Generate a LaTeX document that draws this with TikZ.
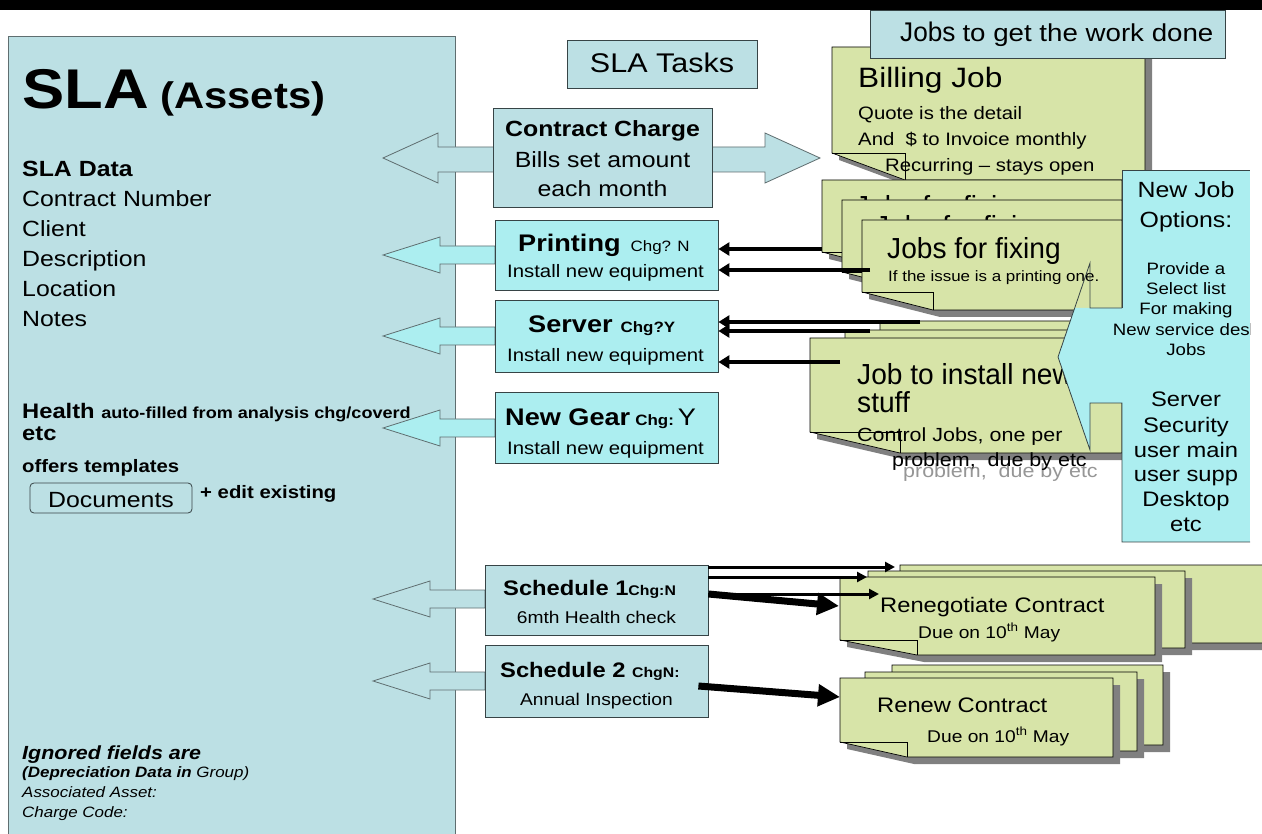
\documentclass[tikz,border=0pt]{standalone}
\usepackage{fontspec}
\setmainfont{Liberation Sans}[FakeStretch=1.13]
\newfontfamily\hfont{Liberation Sans}[FakeStretch=0.97]
\usetikzlibrary{arrows.meta,calc}
\definecolor{lb}{RGB}{188,224,228}
\definecolor{cy}{RGB}{172,238,240}
\definecolor{gn}{RGB}{215,228,168}
\definecolor{bd}{RGB}{55,68,70}
\definecolor{pb}{RGB}{95,110,112}
\definecolor{shd}{RGB}{128,128,128}
\definecolor{gtx}{RGB}{150,150,150}
\newcommand\myfs[1]{\fontsize{#1}{#1}\selectfont}
\newcommand\jnote[6]{%
  \fill[shd] ({#1+7},{#2+7}) -- ({#3+7},{#2+7}) -- ({#3+7},{#4+7}) -- ({#1+#5+7},{#4+7}) -- ({#1+7},{#4-#6+7}) -- cycle;
  \filldraw[fill=gn,draw=black,line width=0.7pt] (#1,#2) -- (#3,#2) -- (#3,#4) -- ({#1+#5},#4) -- (#1,{#4-#6}) -- cycle;
  \draw[line width=0.7pt] (#1,{#4-#6}) -- ({#1+#5},{#4-#6}) -- ({#1+#5},#4);}
\begin{document}
\begin{tikzpicture}[x=1pt,y=-1pt,
  box/.style={draw=bd,line width=0.8pt,inner sep=0pt},
  txt/.style={inner sep=0pt,anchor=base west},
  ctxt/.style={inner sep=0pt,anchor=base},
  blockarrow/.style={draw=pb,line width=0.8pt,line join=miter},
  fatline/.style={line width=4pt,-{Triangle[length=11pt,width=13pt]}},
  thinline/.style={line width=3pt,-{Triangle[length=10pt,width=10pt]}},
  hugeline/.style={line width=7pt,-{Triangle[length=22pt,width=21pt]}}]
\useasboundingbox (0,0) rectangle (1262,834);
\clip (0,0) rectangle (1262,834);
\fill[white] (0,0) rectangle (1262,834);
\fill[black] (0,0) rectangle (1262,10);

% ---------- left panel ----------
\node[box,draw=pb,fill=lb,minimum width=447,minimum height=830,anchor=north west] (panel) at (8,36) {};
\node[txt] (tsla) at (22,109) {\bfseries\myfs{56}SLA\myfs{37} (Assets)};
\node[txt] (tdata) at (22,177) {\bfseries\myfs{22}SLA Data};
\node[txt] (tcn) at (22,207) {\myfs{22}Contract Number};
\node[txt] (tcl) at (22,237) {\myfs{22}Client};
\node[txt] (tde) at (22,267) {\myfs{22}Description};
\node[txt] (tlo) at (22,297) {\myfs{22}Location};
\node[txt] (tno) at (22,327) {\myfs{22}Notes};
\node[txt] (th1) at (22,418) {\bfseries\myfs{21}Health \myfs{16}auto-filled from analysis chg/coverd};
\node[txt] (th2) at (22,441) {\bfseries\myfs{21}etc};
\node[txt] (th3) at (22,472) {\bfseries\myfs{18}offers templates};
\node[box,fill=lb,rounded corners=4pt,minimum width=162,minimum height=30] (docs) at (111,498) {};
\node[ctxt] (docs1) at (111,507) {\myfs{22}Documents};
\node[txt] (edit) at (200,498) {\bfseries\myfs{18}+ edit existing};
\node[txt] (ig1) at (22,759) {\bfseries\itshape\myfs{19}Ignored fields are};
\node[txt] (ig2) at (22,777) {\bfseries\itshape\myfs{15}(Depreciation Data in \mdseries Group)};
\node[txt] (ig3) at (22,797) {\itshape\myfs{15}Associated Asset:};
\node[txt] (ig4) at (22,817) {\itshape\myfs{15}Charge Code:};

% ---------- billing note + jobs title ----------
\jnote{832}{47}{1145}{180}{73}{27}
\node[txt] (bj1) at (858,88) {\myfs{28}Billing Job};
\node[txt] (bj2) at (858,120) {\myfs{18}Quote is the detail};
\node[txt] (bj3) at (858,146) {\myfs{18}And \ \$ to Invoice monthly};
\node[txt] (bj4) at (885,172) {\myfs{18}Recurring -- stays open};
\node[box,fill=lb,minimum width=355,minimum height=48,anchor=north west] (jobs) at (870,10) {};
\node[txt] (jobs1) at (900,42) {{\hfont\myfs{27}Jobs}\hspace{7pt}\myfs{24.5}to get the work done};

% ---------- job to install stack ----------
\jnote{880}{321}{1130}{437}{90}{21}
\jnote{845}{330}{1126}{445}{90}{21}
\jnote{810}{338}{1122}{453}{90}{21}
\node[txt] (ji1) at (857,385) {\hfont\myfs{29}Job to install new};
\node[txt] (ji2) at (857,413) {\hfont\myfs{29}stuff};
\node[txt] (ji3) at (857,442) {\myfs{19}Control Jobs, one per};
\node[txt,text=gtx] (ji4g) at (903,478) {\myfs{19}problem, \ due by etc};
\node[txt] (ji4) at (892,467) {\myfs{19}problem, \ due by etc};

% ---------- jobs for fixing stack ----------
\jnote{822}{180}{1122}{270}{71}{18}
\node[txt] (jf1) at (855,217) {\hfont\myfs{29}Jobs for fixing};
\jnote{842}{200}{1122}{290}{71}{18}
\node[txt] (jf2) at (875,237) {\hfont\myfs{29}Jobs for fixing};
\jnote{862}{220}{1122}{310}{71}{18}
\node[txt] (jf3) at (887,259) {\hfont\myfs{29}Jobs for fixing};
\node[txt] (jf4) at (888,282) {\myfs{15}If the issue is a printing one.};

% ---------- callout ----------
\fill[cy] (1122,170) rectangle (1250,542);
\fill[cy] (1074.7,308) -- (1058,357) -- (1090,450) -- (1090,403) -- (1122,403) -- (1122,308) -- cycle;
\draw[bd,line width=0.8pt] (1122,308) -- (1122,170) -- (1250,170);
\draw[bd,line width=0.8pt,line join=miter] (1250,542) -- (1122,542) -- (1122,403) -- (1090,403) -- (1090,450) -- (1058,357) -- (1090,263) -- (1090,308) -- (1122,308);
\begin{scope}
\clip (1090,170) rectangle (1250,542);
\node[ctxt] (co1) at (1186,198) {\myfs{22}New Job};
\node[ctxt] (co2) at (1186,228) {\myfs{22}Options:};
\node[ctxt] (co3) at (1186,275) {\myfs{16.5}Provide a};
\node[ctxt] (co4) at (1186,295) {\myfs{16.5}Select list};
\node[ctxt] (co5) at (1186,315) {\myfs{16.5}For making};
\node[ctxt] (co6) at (1186,336) {\myfs{16.5}New service desk};
\node[ctxt] (co7) at (1186,356) {\myfs{16.5}Jobs};
\node[ctxt] (co8) at (1186,407) {\myfs{21}Server};
\node[ctxt] (co9) at (1186,432) {\myfs{21}Security};
\node[ctxt] (co10) at (1186,457) {\myfs{21}user main};
\node[ctxt] (co11) at (1186,481) {\myfs{21}user supp};
\node[ctxt] (co12) at (1186,506) {\myfs{21}Desktop};
\node[ctxt] (co13) at (1186,531) {\myfs{21}etc};
\end{scope}

% ---------- renegotiate / renew stacks ----------
\jnote{900}{565}{1275}{643}{77}{15}
\jnote{868}{571}{1185}{648}{77}{15}
\jnote{840}{577}{1155}{655}{77}{15}
\node[txt] (rc1) at (880,612) {\myfs{21}Renegotiate Contract};
\node[txt] (rc2) at (918,638) {\myfs{17}Due on 10\textsuperscript{th} May};
\jnote{892}{665}{1163}{745}{67}{15}
\jnote{865}{672}{1137}{751}{67}{15}
\jnote{840}{678}{1113}{757}{67}{15}
\node[txt] (rw1) at (877,712) {\myfs{21}Renew Contract};
\node[txt] (rw2) at (927,742) {\myfs{17}Due on 10\textsuperscript{th} May};

% ---------- SLA tasks ----------
\node[box,fill=lb,minimum width=190,minimum height=48] (tasks) at (662,64) {};
\node[ctxt] (tasks1) at (662,73) {\myfs{27}SLA Tasks};

\draw[blockarrow,fill=lb] (383,158) -- (438,133) -- (438,147) -- (765,147) -- (765,133) -- (820,158) -- (765,183) -- (765,172) -- (438,172) -- (438,183) -- cycle;
\node[box,fill=lb,minimum width=219,minimum height=99] (cc) at (602.5,157.5) {};
\node[ctxt] (cc1) at (602.5,137) {\bfseries\myfs{22}Contract Charge};
\node[ctxt] (cc2) at (602.5,168) {\myfs{22}Bills set amount};
\node[ctxt] (cc3) at (602.5,197) {\myfs{22}each month};

\draw[blockarrow,fill=cy] (383,255) -- (440,237) -- (440,246) -- (495,246) -- (495,264) -- (440,264) -- (440,273) -- cycle;
\node[box,fill=cy,minimum width=223,minimum height=70] (prt) at (606.5,255) {};
\node[txt] (prt1) at (518,252) {\bfseries\myfs{24}Printing\hspace{10pt}\mdseries\myfs{15}Chg? N};
\node[txt] (prt2) at (507,278) {\myfs{18}Install new equipment};

\draw[blockarrow,fill=cy] (383,336) -- (440,318) -- (440,327) -- (495,327) -- (495,345) -- (440,345) -- (440,354) -- cycle;
\node[box,fill=cy,minimum width=223,minimum height=72] (srv) at (606.5,336) {};
\node[txt] (srv1) at (528,333) {\bfseries\myfs{24}Server\hspace{8pt}\myfs{15}Chg?Y};
\node[txt] (srv2) at (507,362) {\myfs{18}Install new equipment};

\draw[blockarrow,fill=cy] (383,428) -- (440,410) -- (440,419) -- (495,419) -- (495,437) -- (440,437) -- (440,446) -- cycle;
\node[box,fill=cy,minimum width=223,minimum height=71] (ng) at (606.5,427.5) {};
\node[txt] (ng1) at (505,425) {\bfseries\myfs{24}New Gear\hspace{5pt}\myfs{15}Chg:\hspace{4pt}\mdseries\myfs{24}Y};
\node[txt] (ng2) at (507,454) {\myfs{18}Install new equipment};

\draw[blockarrow,fill=lb] (373,599) -- (430,581) -- (430,590) -- (485,590) -- (485,608) -- (430,608) -- (430,617) -- cycle;
\node[box,fill=lb,minimum width=223,minimum height=70] (s1) at (596.5,600) {};
\node[txt] (s1a) at (503,595) {\bfseries\myfs{21}Schedule 1\myfs{14}Chg:N};
\node[ctxt] (s1b) at (596.5,623) {\myfs{17}6mth Health check};

\draw[blockarrow,fill=lb] (373,681) -- (430,663) -- (430,672) -- (485,672) -- (485,690) -- (430,690) -- (430,699) -- cycle;
\node[box,fill=lb,minimum width=223,minimum height=72] (s2) at (596.5,681) {};
\node[txt] (s2a) at (500,677) {\bfseries\myfs{21}Schedule 2 \myfs{14}ChgN:};
\node[ctxt] (s2b) at (596.5,705) {\myfs{17}Annual Inspection};

% ---------- connectors ----------
\coordinate (pa1) at (822,249);
\coordinate (pa2) at (870,270);
\draw[fatline] (pa1) -- (prt.east |- pa1);
\draw[fatline] (pa2) -- (prt.east |- pa2);
\coordinate (sa1) at (920,322);
\coordinate (sa2) at (870,331);
\coordinate (sa3) at (840,362);
\draw[fatline] (sa1) -- (srv.east |- sa1);
\draw[fatline] (sa2) -- (srv.east |- sa2);
\draw[fatline] (sa3) -- (srv.east |- sa3);

\coordinate (r1) at (895,567);
\coordinate (r2) at (867,577);
\coordinate (r3) at (879,594);
\coordinate (r4) at (839,606);
\coordinate (r5) at (840,697);
\draw[thinline] (s1.east |- r1) -- (r1);
\draw[thinline] (s1.east |- r2) -- (r2);
\draw[hugeline] ($(s1.east)+(0,-6)$) -- (r4);
\draw[thinline] (s1.east |- r3) -- (r3);
\draw[hugeline] ($(s2.east)+(-10,5)$) -- (r5);
\end{tikzpicture}
\end{document}
